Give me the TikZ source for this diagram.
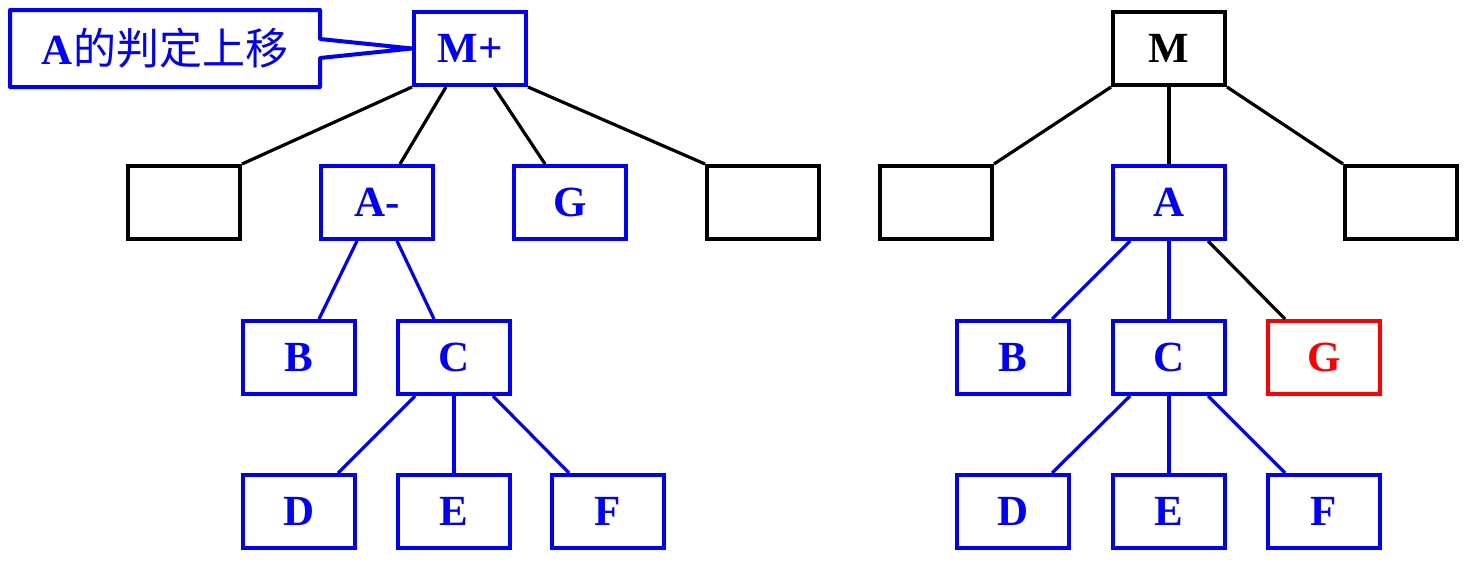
\documentclass[tikz,border=0pt]{standalone}
\usepackage{fontspec}
\setmainfont{Liberation Serif}
\newfontfamily\cjk{Noto Sans CJK SC}
\usetikzlibrary{calc}

\begin{document}
\begin{tikzpicture}[x=0.5pt,y=-0.5pt,line width=1.6pt,
box/.style={draw,line width=2pt,minimum width=56pt,minimum height=36.5pt,inner sep=0pt,font=\fontsize{21.5}{24}\selectfont\bfseries},
bbox/.style={box,draw=blue,text=blue},rbox/.style={box,draw=red,text=red},
blink/.style={draw=blue}]
\useasboundingbox (0,0) rectangle (1471,562);
% left tree
\node[bbox] (mp) at (470,48.5) {M+};
\node[bbox,minimum width=153pt,draw=none] (note) at (165,48.5) {A{\cjk\mdseries 的判定上移}};
\draw[blue,line width=2pt,line join=round] (note.north west)--(note.north east)--([yshift=4.75pt]note.east)--(mp.west)
  --([yshift=-4.75pt]note.east)--(note.south east)--(note.south west)--cycle;
\node[box] (le1) at (184,202.5) {};
\node[bbox] (am) at (377,202.5) {A-};
\node[bbox] (lg) at (570,202.5) {G};
\node[box] (le2) at (763,202.5) {};
\node[bbox] (lb) at (299,357.5) {B};
\node[bbox] (lc) at (454,357.5) {C};
\node[bbox] (ld) at (299,511.5) {D};
\node[bbox] (lee) at (454,511.5) {E};
\node[bbox] (lf) at (608,511.5) {F};
\draw (mp.south west)--(le1.north east);\draw ([xshift=-12pt]mp.south)--([xshift=11.5pt]am.north);
\draw ([xshift=12pt]mp.south)--([xshift=-12.5pt]lg.north);\draw (mp.south east)--(le2.north west);
\draw[blink] ([xshift=-10pt]am.south)--([xshift=10pt]lb.north);\draw[blink] ([xshift=10pt]am.south)--([xshift=-10pt]lc.north);
\draw[blink] ([xshift=-19.5pt]lc.south)--([xshift=19.5pt]ld.north);\draw[blink] (lc)--(lee);
\draw[blink] ([xshift=19.5pt]lc.south)--([xshift=-19.5pt]lf.north);
% right tree
\node[box] (m) at (1169,48.5) {M};
\node[box] (re1) at (936,202.5) {};
\node[bbox] (a) at (1169,202.5) {A};
\node[box] (re2) at (1401,202.5) {};
\node[bbox] (rb) at (1013,357.5) {B};
\node[bbox] (rc) at (1169,357.5) {C};
\node[rbox] (rg) at (1324,357.5) {G};
\node[bbox] (rd) at (1013,511.5) {D};
\node[bbox] (ree) at (1169,511.5) {E};
\node[bbox] (rf) at (1324,511.5) {F};
\draw (m.south west)--(re1.north east);\draw (m)--(a);\draw (m.south east)--(re2.north west);
\draw[blink] ([xshift=-19.5pt]a.south)--([xshift=19.5pt]rb.north);\draw[blink] (a)--(rc);
\draw ([xshift=19.5pt]a.south)--([xshift=-19.5pt]rg.north);
\draw[blink] ([xshift=-19.5pt]rc.south)--([xshift=19.5pt]rd.north);\draw[blink] (rc)--(ree);
\draw[blink] ([xshift=19.5pt]rc.south)--([xshift=-19.5pt]rf.north);
\end{tikzpicture}
\end{document}
